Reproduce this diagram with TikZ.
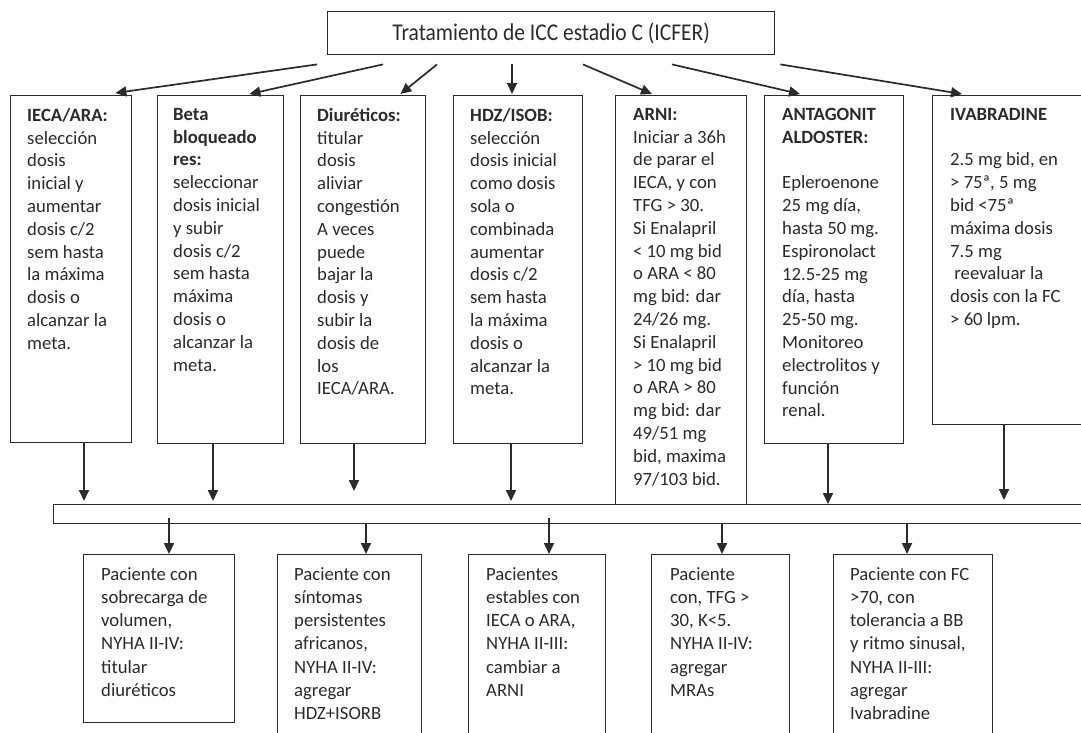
\documentclass[tikz,border=0pt]{standalone}
\usepackage{fontspec}
\setmainfont{Carlito}
\usetikzlibrary{arrows.meta,calc}
\definecolor{ink}{HTML}{2B2B2B}
\begin{document}
\begin{tikzpicture}[x=1pt,y=-1pt,
  box/.style={draw=ink, line width=1.4pt, anchor=north west, inner sep=0pt},
  txt/.style={anchor=north west, inner sep=0pt, align=left, text=ink,
              font=\fontsize{18.7}{22.8}\selectfont},
  btxt/.style={txt, font=\fontsize{18.7}{23.3}\selectfont},
  arr/.style={draw=ink, line width=1.7pt, -{Triangle[length=11pt,width=10pt]}},
]
\useasboundingbox (0,0) rectangle (1081,732);
\fill[white] (0,0) rectangle (1081,732);

% title
\node[box, minimum width=447pt, minimum height=43pt, text=ink,
      font=\fontsize{21.5}{25}\selectfont] (title) at (327,11)
      {\scalebox{1}[1.12]{Tratamiento de ICC estadio C (ICFER)}};

% top boxes
\node[box, minimum width=121pt, minimum height=347pt] (b1) at (10,95) {};
\node[box, minimum width=126pt, minimum height=348pt] (b2) at (157,95) {};
\node[box, minimum width=125pt, minimum height=348pt] (b3) at (300,95) {};
\node[box, minimum width=129pt, minimum height=348pt] (b4) at (453,95) {};
\node[box, minimum width=131pt, minimum height=409pt] (b5) at (615,95) {};
\node[box, minimum width=139pt, minimum height=348pt] (b6) at (764,95) {};
\node[box, minimum width=170pt, minimum height=329pt] (b7) at (932,95) {};

\node[txt] (t1) at ($(b1.north west)+(17,13)$)
 {\textbf{IECA/ARA:}\\selección\\dosis\\inicial y\\aumentar\\dosis c/2\\sem hasta\\la máxima\\dosis o\\alcanzar la\\meta.};
\node[txt] (t2) at ($(b2.north west)+(16,13)$)
 {\textbf{Beta}\\\textbf{bloqueado}\\\textbf{res:}\\seleccionar\\dosis inicial\\y subir\\dosis c/2\\sem hasta\\máxima\\dosis o\\alcanzar la\\meta.};
\node[txt] (t3) at ($(b3.north west)+(17,13)$)
 {\textbf{Diuréticos:}\\titular\\dosis\\aliviar\\congestión\\A veces\\puede\\bajar la\\dosis y\\subir la\\dosis de\\los\\IECA/ARA.};
\node[txt] (t4) at ($(b4.north west)+(17,13)$)
 {\textbf{HDZ/ISOB:}\\selección\\dosis inicial\\como dosis\\sola o\\combinada\\aumentar\\dosis c/2\\sem hasta\\la máxima\\dosis o\\alcanzar la\\meta.};
\node[txt] (t5) at ($(b5.north west)+(18,13)$)
 {\textbf{ARNI:}\\Iniciar a 36h\\de parar el\\IECA, y con\\TFG > 30.\\Si Enalapril\\< 10 mg bid\\o ARA < 80\\mg bid: dar\\24/26 mg.\\Si Enalapril\\> 10 mg bid\\o ARA > 80\\mg bid: dar\\49/51 mg\\bid, maxima\\97/103 bid.};
\node[txt] (t6) at ($(b6.north west)+(18,13)$)
 {\textbf{ANTAGONIT}\\\textbf{ALDOSTER:}\\[22.8pt]Epleroenone\\25 mg día,\\hasta 50 mg.\\Espironolact\\12.5-25 mg\\día, hasta\\25-50 mg.\\Monitoreo\\electrolitos y\\función\\renal.};
\node[txt] (t7) at ($(b7.north west)+(18,13)$)
 {\textbf{IVABRADINE}\\[22.8pt]2.5 mg bid, en\\> 75ª, 5 mg\\bid <75ª\\máxima dosis\\7.5 mg\\\ reevaluar la\\dosis con la FC\\> 60 lpm.};

% bar
\node[box, minimum width=1060pt, minimum height=19pt] (bar) at (53,504) {};

% bottom boxes
\node[box, minimum width=151pt, minimum height=168pt] (B1) at (83,554) {};
\node[box, minimum width=144pt, minimum height=200pt] (B2) at (277,554) {};
\node[box, minimum width=137pt, minimum height=200pt] (B3) at (468,554) {};
\node[box, minimum width=138pt, minimum height=200pt] (B4) at (651,554) {};
\node[box, minimum width=159pt, minimum height=200pt] (B5) at (833,554) {};

\node[btxt] (u1) at ($(B1.north west)+(18,13)$)
 {Paciente con\\sobrecarga de\\volumen,\\NYHA II-IV:\\titular\\diuréticos};
\node[btxt] (u2) at ($(B2.north west)+(17,13)$)
 {Paciente con\\síntomas\\persistentes\\africanos,\\NYHA II-IV:\\agregar\\HDZ+ISORB};
\node[btxt] (u3) at ($(B3.north west)+(18,13)$)
 {Pacientes\\estables con\\IECA o ARA,\\NYHA II-III:\\cambiar a\\ARNI};
\node[btxt] (u4) at ($(B4.north west)+(19,13)$)
 {Paciente\\con, TFG >\\30, K<5.\\NYHA II-IV:\\agregar\\MRAs};
\node[btxt] (u5) at ($(B5.north west)+(17,13)$)
 {Paciente con FC\\>70, con\\tolerancia a BB\\y ritmo sinusal,\\NYHA II-III:\\agregar\\Ivabradine};

% arrows from title
\draw[arr] ($(title.south west)+(-10,9)$) -- ($(b1.north east)+(-17,-2)$);
\draw[arr] ($(title.south west)+(56,9)$) -- ($(b2.north east)+(-35,-1)$);
\draw[arr] ($(title.south west)+(110,9)$) -- ($(b3.north east)+(-26,-1)$);
\draw[arr] ($(title.south west)+(185,9)$) -- ($(b4.north west)+(59,-1)$);
\draw[arr] ($(title.south west)+(256,9)$) -- ($(b5.north west)+(37,-1)$);
\draw[arr] ($(title.south west)+(345,9)$) -- ($(b6.north west)+(36,-1)$);
\draw[arr] ($(title.south east)+(5,9)$) -- ($(b7.north west)+(30,-1)$);

% arrows to bar
\coordinate (a1) at ($(b1.south west)+(74,0)$);
\coordinate (a2) at ($(b2.south west)+(56,0)$);
\coordinate (a3) at ($(b3.south west)+(54,0)$);
\coordinate (a4) at ($(b4.south west)+(58,0)$);
\coordinate (a6) at ($(b6.south west)+(64,0)$);
\coordinate (a7) at ($(b7.south west)+(72,0)$);
\draw[arr, shorten >=3pt] (a1) -- (a1 |- bar.north);
\draw[arr, shorten >=3pt] (a2) -- (a2 |- bar.north);
\draw[arr, shorten >=13pt] (a3) -- (a3 |- bar.north);
\draw[arr, shorten >=3pt] (a4) -- (a4 |- bar.north);
\draw[arr] (a6) -- (a6 |- bar.north);
\draw[arr, shorten >=4pt] (a7) -- (a7 |- bar.north);

% arrows from bar
\coordinate (d1) at ($(B1.north west)+(86,0)$);
\coordinate (d2) at ($(B2.north west)+(89,0)$);
\coordinate (d3) at ($(B3.north west)+(81,0)$);
\coordinate (d4) at ($(B4.north west)+(71,0)$);
\coordinate (d5) at ($(B5.north west)+(74,0)$);
\draw[arr] ($(d1 |- bar.south)+(0,-6)$) -- (d1);
\draw[arr] (d2 |- bar.south) -- (d2);
\draw[arr] ($(d3 |- bar.south)+(0,-6)$) -- (d3);
\draw[arr] (d4 |- bar.south) -- (d4);
\draw[arr] (d5 |- bar.south) -- (d5);
\end{tikzpicture}
\end{document}
